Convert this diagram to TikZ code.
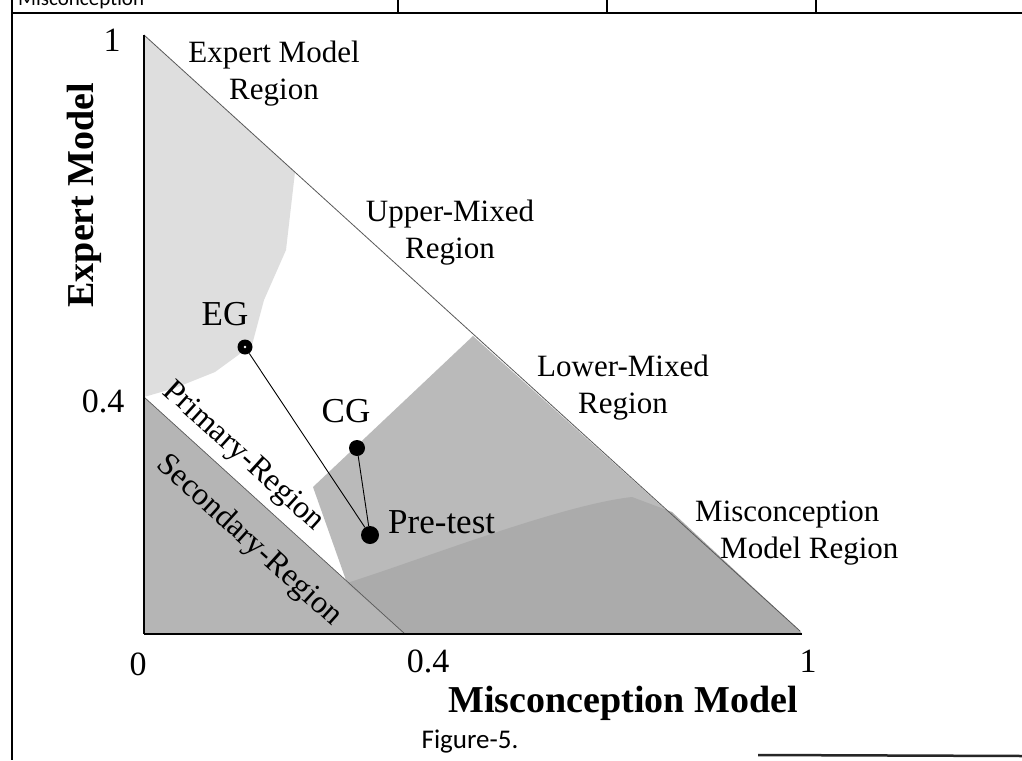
\documentclass[tikz,border=0pt]{standalone}
\usepackage{fontspec}
\setmainfont{Liberation Serif}
\newfontfamily\calib{Carlito}
\definecolor{lightg}{gray}{0.87}
\definecolor{midg}{gray}{0.73}
\definecolor{darkg}{gray}{0.67}
\definecolor{secg}{gray}{0.71}
\definecolor{lineg}{gray}{0.35}
\begin{document}
\begin{tikzpicture}[x=1pt,y=-1pt,
  reglbl/.style={font=\fontsize{31}{37}\selectfont, align=center, inner sep=0pt},
  ptlbl/.style={font=\fontsize{35}{40}\selectfont, inner sep=0pt},
  ticklbl/.style={font=\fontsize{34}{38}\selectfont, inner sep=0pt},
  axlbl/.style={font=\fontsize{38}{42}\selectfont\bfseries, inner sep=0pt},
  diaglbl/.style={font=\fontsize{32}{36}\selectfont, inner sep=0pt, rotate=-42.2},
  dot/.style={circle, fill=black, inner sep=0pt, minimum size=#1},
  dot/.default=15pt,
  frame/.style={line width=1.4pt, black}]
\useasboundingbox (0,0) rectangle (1022,760);
\fill[white] (0,0) rectangle (1022,760);
% table frame
\coordinate (tl) at (12,0);
\coordinate (bl) at (12,760);
\draw[frame] (tl) -- (bl);
\draw[frame] (12,13) -- (1022,13);
\draw[frame] (398,0) -- (398,13);
\draw[frame] (607,0) -- (607,13);
\draw[frame] (816,0) -- (816,13);
\draw[line width=2.5pt, black!85] (758,755) -- (1022,756);
\node[font=\calib\fontsize{21}{23}\selectfont, anchor=base west, inner sep=0pt] (hdr) at (18,6) {Misconception};
% triangle coordinates
\coordinate (A) at (144,35);
\coordinate (O) at (144,634);
\coordinate (B) at (800,631);
\coordinate (Bx) at (802,634);
\coordinate (S1) at (144,397);
\coordinate (S2) at (405,634);
% expert region (light)
\fill[lightg] (A) -- (295,172) -- (286,250) -- (264,300) -- (252,345) -- (215,372) -- (175,388) -- (S1) -- cycle;
% secondary region
\fill[secg] (S1) -- (O) -- (S2) -- cycle;
% lower-mixed region
\fill[midg] (473,336) -- (B) -- (Bx) -- (S2) -- (347,583) -- (313,487) -- cycle;
% misconception region (darker)
\fill[darkg] (347,583) .. controls (420,560) and (560,505) .. (632,497) -- (672,512) -- (B) -- (Bx) -- (S2) -- cycle;
% region boundary lines
\draw[lineg, line width=0.8pt] (A) -- (B);
\draw[lineg, line width=0.7pt] (S1) -- (S2);
% axes
\draw[black, line width=1.3pt] (A) -- (O);
\draw[black, line width=1.6pt] (O) -- (Bx);
% region labels
\node[reglbl] (rexp) at (274,74) {Expert Model\\Region};
\node[reglbl] (rupp) at (450,233) {Upper-Mixed\\Region};
\node[reglbl] (rlow) at (623,388) {Lower-Mixed\\Region};
\node[reglbl, align=left, anchor=north west] (rmis) at (695,501) {Misconception\\\hspace*{25pt}Model Region};
\node[diaglbl] (rpri) at (243,457) {Primary-Region};
\node[diaglbl] (rsec) at (249,541) {Secondary-Region};
% data points
\node[dot=15pt] (eg) at (245,347) {};
\node[dot=16pt] (cg) at (357,448) {};
\node[dot=18pt] (pre) at (370,535) {};
\draw[black, line width=0.9pt] (eg) -- (pre);
\draw[black, line width=0.9pt] (cg) -- (pre);
\fill[white] (245,347) circle (1.3pt);
\node[ptlbl, anchor=base] (eglbl) at (225,325) {EG};
\node[ptlbl, anchor=base] (cglbl) at (346,422) {CG};
\node[ptlbl, anchor=base west] (prelbl) at (388,533) {Pre-test};
% ticks
\node[ticklbl, anchor=base] (y1) at (112,52) {1};
\node[ticklbl, anchor=base] (y04) at (103,412) {0.4};
\node[ticklbl, anchor=base] (x0) at (138,675) {0};
\node[ticklbl, anchor=base] (x04) at (428,672) {0.4};
\node[ticklbl, anchor=base] (x1) at (808,672) {1};
% axis titles
\node[axlbl, rotate=90] (ytitle) at (84,195) {Expert Model};
\node[axlbl, anchor=base] (xtitle) at (623,712) {Misconception Model};
% caption
\node[font=\calib\fontsize{27}{30}\selectfont, anchor=base, inner sep=0pt] (cap) at (470,748) {Figure-5.};
\end{tikzpicture}
\end{document}
